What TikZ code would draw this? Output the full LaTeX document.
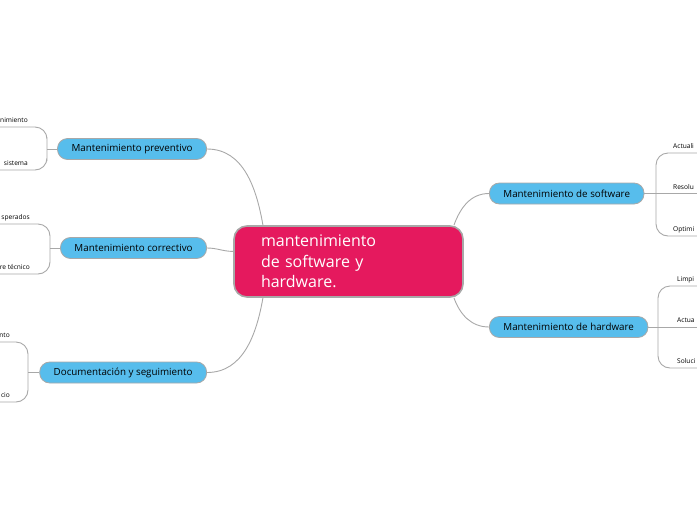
\documentclass[tikz,border=0pt]{standalone}
\usepackage{fontspec}
\setmainfont{Open Sans}
\usetikzlibrary{calc}
\definecolor{rosa}{HTML}{E5195E}
\definecolor{celeste}{HTML}{57BDEC}
\definecolor{gris}{HTML}{A8A8A8}

\begin{document}
\begin{tikzpicture}[x=1pt,y=-1pt,
  raiz/.style={draw=gris,line width=1.6pt,fill=rosa,rounded corners=13pt,minimum width=229pt,minimum height=71pt,text width=175pt,inner xsep=27pt,align=left,text=white,font=\fontsize{16}{20.5}\selectfont},
  rama/.style={draw=gris,line width=0.8pt,fill=celeste,rounded corners=10pt,minimum height=21pt,inner xsep=14pt,font=\fontsize{9.8}{10}\selectfont},
  hoja/.style={inner sep=0pt,text depth=4pt,font=\fontsize{6.6}{7}\selectfont},
  enlace/.style={draw=gris,line width=0.9pt}]
\useasboundingbox (0,0) rectangle (697,520);

\node[raiz] (raiz) at (348.5,261.5) {mantenimiento\\de software y\\hardware.};

\node[rama,anchor=east] (pre) at (207,149) {Mantenimiento preventivo};
\node[rama,anchor=east] (cor) at (207,248) {Mantenimiento correctivo};
\node[rama,anchor=east] (doc) at (207,372.5) {Documentación y seguimiento};
\node[rama,anchor=west] (sw) at (489,193.5) {Mantenimiento de software};
\node[rama,anchor=west] (hw) at (489,327) {Mantenimiento de hardware};

\draw[enlace] (pre.east) to[out=0,in=100] (raiz.157);
\draw[enlace] (cor.east) to[out=0,in=180] (raiz.175);
\draw[enlace] (doc.east) to[out=0,in=-100] (raiz.203);
\draw[enlace] (sw.west) to[out=180,in=70] (raiz.19);
\draw[enlace] (hw.west) to[out=180,in=-70] (raiz.341);

% hojas izquierda
\node[hoja,anchor=south east] (p1) at (28,127) {nimiento};
\node[hoja,anchor=south east] (p2) at (28,170) {sistema};
\coordinate (pk) at (47,149);
\draw[enlace] (pre.west) -- (pk);
\draw[enlace,rounded corners=12pt] ($(p1.south east)+(-40,0)$) -| (pk) |- ($(p2.south east)+(-40,0)$);

\node[hoja,anchor=south east] (c1) at (30,224) {sperados};
\node[hoja,anchor=south east] (c2) at (30,274) {re técnico};
\coordinate (ck) at (50,248);
\draw[enlace] (cor.west) -- (ck);
\draw[enlace,rounded corners=12pt] ($(c1.south east)+(-40,0)$) -| (ck) |- ($(c2.south east)+(-40,0)$);

\node[hoja,anchor=south east] (d1) at (10,342) {nto};
\node[hoja,anchor=south east] (d2) at (10,402) {cio};
\coordinate (dk) at (28,372.5);
\draw[enlace] (doc.west) -- (dk);
\draw[enlace,rounded corners=12pt] ($(d1.south east)+(-40,0)$) -| (dk) |- ($(d2.south east)+(-40,0)$);

% hojas derecha
\node[hoja,anchor=south west] (s1) at (673,153) {Actuali};
\node[hoja,anchor=south west] (s2) at (673,193.5) {Resolu};
\node[hoja,anchor=south west] (s3) at (673,236) {Optimi};
\coordinate (sk) at (656,193.5);
\draw[enlace] (sw.east) -- ($(s2.south east)+(30,0)$);
\draw[enlace,rounded corners=12pt] ($(s1.south west)+(40,0)$) -| (sk) |- ($(s3.south west)+(40,0)$);

\node[hoja,anchor=south west] (h1) at (677,286) {Limpi};
\node[hoja,anchor=south west] (h2) at (677,327) {Actua};
\node[hoja,anchor=south west] (h3) at (677,368) {Soluci};
\coordinate (hk) at (658,327);
\draw[enlace] (hw.east) -- ($(h2.south east)+(30,0)$);
\draw[enlace,rounded corners=12pt] ($(h1.south west)+(40,0)$) -| (hk) |- ($(h3.south west)+(40,0)$);
\end{tikzpicture}
\end{document}
